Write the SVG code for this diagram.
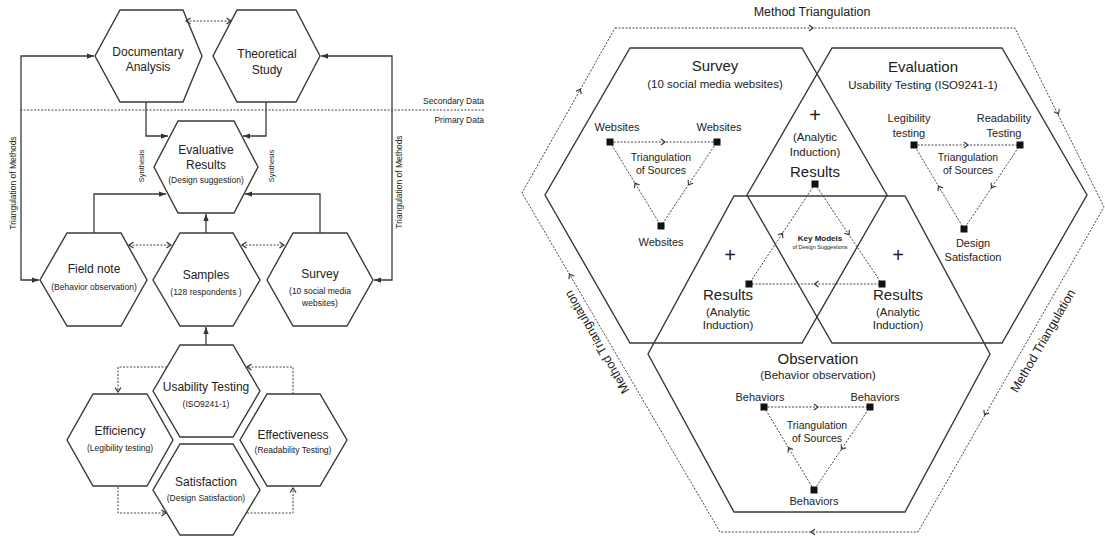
<svg xmlns="http://www.w3.org/2000/svg" xmlns:xlink="http://www.w3.org/1999/xlink" width="1105" height="536" viewBox="0 0 1105 536">
<style>
text{font-family:"Liberation Sans",Arial,sans-serif;fill:#222;text-anchor:middle}
.hx{fill:none;stroke:#3a3a3a;stroke-width:1.4}
.ln{fill:none;stroke:#3a3a3a;stroke-width:1.3}
.dl{fill:none;stroke:#444;stroke-width:1;stroke-dasharray:2 1.5}
.sq{fill:#111}
.t12{font-size:12px}
.t85{font-size:8.5px}
.t75{font-size:7.5px}
.tt{font-size:15px}
.ts{font-size:11.5px}
.tl{font-size:11px}
.tri{font-size:10.5px}
.pl{font-size:20px}
</style>
<defs>
<marker id="arr" viewBox="0 0 8 8" refX="8" refY="4" markerWidth="7" markerHeight="7" markerUnits="userSpaceOnUse" orient="auto"><path d="M0,1 L8,4 L0,7 z" fill="#333"/></marker>
<marker id="chev" viewBox="0 0 8 8" refX="7" refY="4" markerWidth="8" markerHeight="8" markerUnits="userSpaceOnUse" orient="auto-start-reverse"><path d="M2.5,1 L7,4 L2.5,7" fill="none" stroke="#333" stroke-width="1.2"/></marker>
<path id="cv" d="M-3,-3 L1,0 L-3,3" fill="none" stroke="#333" stroke-width="1.1"/>
</defs>

<!-- LEFT DIAGRAM -->
<g id="left-connectors">
<path class="dl" d="M20,110 H484"/>
<path class="dl" d="M186,21 H231" marker-start="url(#chev)" marker-end="url(#chev)"/>
<path class="ln" d="M21,168 V56 H94" marker-end="url(#arr)"/>
<path class="ln" d="M21,168 V280 H39" marker-end="url(#arr)"/>
<path class="ln" d="M392,168 V56 H321" marker-end="url(#arr)"/>
<path class="ln" d="M392,168 V280 H374" marker-end="url(#arr)"/>
<path class="ln" d="M146,102 V136 H168" marker-end="url(#arr)"/>
<path class="ln" d="M266,102 V136 H243" marker-end="url(#arr)"/>
<path class="ln" d="M94,233 V194 H166" marker-end="url(#arr)"/>
<path class="ln" d="M320,233 V194 H245" marker-end="url(#arr)"/>
<path class="ln" d="M206,233 V214" marker-end="url(#arr)"/>
<path class="ln" d="M206,345 V327" marker-end="url(#arr)"/>
<path class="dl" d="M129,245 H171" marker-start="url(#chev)" marker-end="url(#chev)"/>
<path class="dl" d="M242,245 H284" marker-start="url(#chev)" marker-end="url(#chev)"/>
<path class="dl" d="M167,367 H118 V392" marker-end="url(#chev)"/>
<path class="dl" d="M118,487 V513 H166" marker-end="url(#chev)"/>
<path class="dl" d="M247,513 H293 V488" marker-end="url(#chev)"/>
<path class="dl" d="M293,394 V367 H247" marker-end="url(#chev)"/>
<text class="t85" x="484" y="104" style="text-anchor:end">Secondary Data</text>
<text class="t85" x="484" y="123" style="text-anchor:end">Primary Data</text>
<text class="t85" transform="translate(13,183) rotate(-90)" y="3">Triangulation of Methods</text>
<text class="t85" transform="translate(399,182) rotate(-90)" y="3">Triangulation of Methods</text>
<text class="t75" transform="translate(141,166) rotate(-90)" y="3">Synthesis</text>
<text class="t75" transform="translate(271,166) rotate(-90)" y="3">Synthesis</text>
</g>

<g id="n-documentary">
<polygon class="hx" points="120,10 183,10 202,56 183,102 120,102 95,56"/>
<text class="t12" x="148" y="56">Documentary</text>
<text class="t12" x="148" y="71">Analysis</text>
</g>
<g id="n-theoretical">
<polygon class="hx" points="237,10 296,10 320,56 296,102 237,102 213,56"/>
<text class="t12" x="267" y="58">Theoretical</text>
<text class="t12" x="267" y="74">Study</text>
</g>
<g id="n-evaluative">
<polygon class="hx" points="178,121 234,121 258,167 234,213 178,213 154,167"/>
<text class="t12" x="206" y="154">Evaluative</text>
<text class="t12" x="206" y="169">Results</text>
<text class="t85" x="206" y="183">(Design suggestion)</text>
</g>
<g id="n-fieldnote">
<polygon class="hx" points="67,233 121,233 147,280 121,326 67,326 40,280"/>
<text class="t12" x="94" y="273">Field note</text>
<text class="t85" x="94" y="290">(Behavior observation)</text>
</g>
<g id="n-samples">
<polygon class="hx" points="180,233 233,233 260,280 233,326 180,326 153,280"/>
<text class="t12" x="206" y="279">Samples</text>
<text class="t85" x="206" y="295">(128 respondents )</text>
</g>
<g id="n-survey-l">
<polygon class="hx" points="293,233 347,233 373,280 347,326 293,326 267,280"/>
<text class="t12" x="320" y="278">Survey</text>
<text class="t85" x="320" y="294">(10 social media</text>
<text class="t85" x="320" y="306">websites)</text>
</g>
<g id="n-usability">
<polygon class="hx" points="180,345 233,345 260,391 233,437 180,437 153,391"/>
<text class="t12" x="206" y="391">Usability Testing</text>
<text class="t85" x="206" y="407">(ISO9241-1)</text>
</g>
<g id="n-efficiency">
<polygon class="hx" points="93,394 147,394 173,440 147,486 93,486 67,440"/>
<text class="t12" x="120" y="435">Efficiency</text>
<text class="t85" x="120" y="451">(Legibility testing)</text>
</g>
<g id="n-effectiveness">
<polygon class="hx" points="267,394 320,394 347,440 320,486 267,486 240,440"/>
<text class="t12" x="293" y="439">Effectiveness</text>
<text class="t85" x="293" y="453">(Readability Testing)</text>
</g>
<g id="n-satisfaction">
<polygon class="hx" points="180,444 233,444 260,490 233,535 180,535 153,490"/>
<text class="t12" x="206" y="486">Satisfaction</text>
<text class="t85" x="206" y="501">(Design Satisfaction)</text>
</g>

<!-- RIGHT DIAGRAM -->
<g id="outer-method-triangulation">
<polygon class="dl" points="615,28 1015,28 1104,207 918,532 720,532 522,193"/>
<use xlink:href="#cv" href="#cv" transform="translate(812,28)"/>
<use xlink:href="#cv" href="#cv" transform="translate(1058,113) rotate(63.6)"/>
<use xlink:href="#cv" href="#cv" transform="translate(985,414) rotate(119.8)"/>
<use xlink:href="#cv" href="#cv" transform="translate(812,532) rotate(180)"/>
<use xlink:href="#cv" href="#cv" transform="translate(570,275) rotate(239.7)"/>
<use xlink:href="#cv" href="#cv" transform="translate(580,90) rotate(-60.6)"/>
<text style="font-size:12.5px" x="812" y="16">Method Triangulation</text>
<text style="font-size:12.5px" transform="translate(597,342) rotate(240)" y="4">Method Triangulation</text>
<text style="font-size:12.5px" transform="translate(1043,341) rotate(-60)" y="4">Method Triangulation</text>
</g>

<g id="hex-survey">
<polygon class="hx" points="630,48 802,48 887,195 802,343 630,343 545,195"/>
<text class="tt" x="715" y="71">Survey</text>
<text class="ts" x="715" y="88">(10 social media websites)</text>
</g>
<g id="hex-evaluation">
<polygon class="hx" points="832,48 1002,48 1087,195 1002,343 832,343 747,195"/>
<text class="tt" x="923" y="72">Evaluation</text>
<text class="ts" x="923" y="89">Usability Testing (ISO9241-1)</text>
</g>
<g id="hex-observation">
<polygon class="hx" points="734,196 905,196 990,354 905,512 734,512 648,354"/>
<text class="tt" x="818" y="364">Observation</text>
<text class="ts" x="818" y="379">(Behavior observation)</text>
</g>

<g id="tri-survey">
<path class="dl" d="M610,142 H717 L661,226 Z"/>
<use xlink:href="#cv" href="#cv" transform="translate(664,142)"/>
<use xlink:href="#cv" href="#cv" transform="translate(689,184) rotate(123.7)"/>
<use xlink:href="#cv" href="#cv" transform="translate(635.5,184) rotate(-121.3)"/>
<rect class="sq" x="606.5" y="138.5" width="7" height="7"/>
<rect class="sq" x="713.5" y="138.5" width="7" height="7"/>
<rect class="sq" x="657.5" y="222.5" width="7" height="7"/>
<text class="tl" x="617" y="131">Websites</text>
<text class="tl" x="719" y="131">Websites</text>
<text class="tl" x="661" y="246">Websites</text>
<text class="tri" x="661" y="161">Triangulation</text>
<text class="tri" x="661" y="174">of Sources</text>
</g>

<g id="tri-evaluation">
<path class="dl" d="M914,145 H1020 L964,229 Z"/>
<use xlink:href="#cv" href="#cv" transform="translate(967,145)"/>
<use xlink:href="#cv" href="#cv" transform="translate(992,187) rotate(123.7)"/>
<use xlink:href="#cv" href="#cv" transform="translate(939,187) rotate(-120.8)"/>
<rect class="sq" x="910.5" y="141.5" width="7" height="7"/>
<rect class="sq" x="1016.5" y="141.5" width="7" height="7"/>
<rect class="sq" x="960.5" y="225.5" width="7" height="7"/>
<text class="tl" x="909" y="122">Legibility</text>
<text class="tl" x="909" y="137">testing</text>
<text class="tl" x="1004" y="122">Readability</text>
<text class="tl" x="1004" y="137">Testing</text>
<text class="tri" x="968" y="161">Triangulation</text>
<text class="tri" x="968" y="174">of Sources</text>
<text class="tl" x="973" y="247">Design</text>
<text class="tl" x="973" y="261">Satisfaction</text>
</g>

<g id="tri-observation">
<path class="dl" d="M764,407 H870 L814,490 Z"/>
<use xlink:href="#cv" href="#cv" transform="translate(817,407)"/>
<use xlink:href="#cv" href="#cv" transform="translate(842,448.5) rotate(124)"/>
<use xlink:href="#cv" href="#cv" transform="translate(789,448.5) rotate(-121)"/>
<rect class="sq" x="760.5" y="403.5" width="7" height="7"/>
<rect class="sq" x="866.5" y="403.5" width="7" height="7"/>
<rect class="sq" x="810.5" y="486.5" width="7" height="7"/>
<text class="tl" x="760" y="401">Behaviors</text>
<text class="tl" x="875" y="401">Behaviors</text>
<text class="tl" x="814" y="505">Behaviors</text>
<text class="tri" x="817" y="429">Triangulation</text>
<text class="tri" x="817" y="442">of Sources</text>
</g>

<g id="key-models">
<path class="dl" d="M815,184 L882,284 H749 Z"/>
<use xlink:href="#cv" href="#cv" transform="translate(848.5,234) rotate(56.2)"/>
<use xlink:href="#cv" href="#cv" transform="translate(815.5,284) rotate(180)"/>
<use xlink:href="#cv" href="#cv" transform="translate(782,234) rotate(-56.6)"/>
<rect class="sq" x="811.5" y="180.5" width="7" height="7"/>
<rect class="sq" x="878.5" y="280.5" width="7" height="7"/>
<rect class="sq" x="745.5" y="280.5" width="7" height="7"/>
<text style="font-size:8px;font-weight:bold" x="820" y="241">Key Models</text>
<text style="font-size:5.5px" x="820" y="249">of Design Suggestions</text>
</g>

<g id="results-top">
<text class="pl" x="815" y="122">+</text>
<text class="ts" x="815" y="141">(Analytic</text>
<text class="ts" x="815" y="156">Induction)</text>
<text class="tt" x="815" y="177">Results</text>
</g>
<g id="results-left">
<text class="pl" x="730" y="262">+</text>
<text class="tt" x="728" y="300">Results</text>
<text class="ts" x="728" y="316">(Analytic</text>
<text class="ts" x="728" y="329">Induction)</text>
</g>
<g id="results-right">
<text class="pl" x="898" y="262">+</text>
<text class="tt" x="898" y="300">Results</text>
<text class="ts" x="898" y="316">(Analytic</text>
<text class="ts" x="898" y="329">Induction)</text>
</g>
</svg>
